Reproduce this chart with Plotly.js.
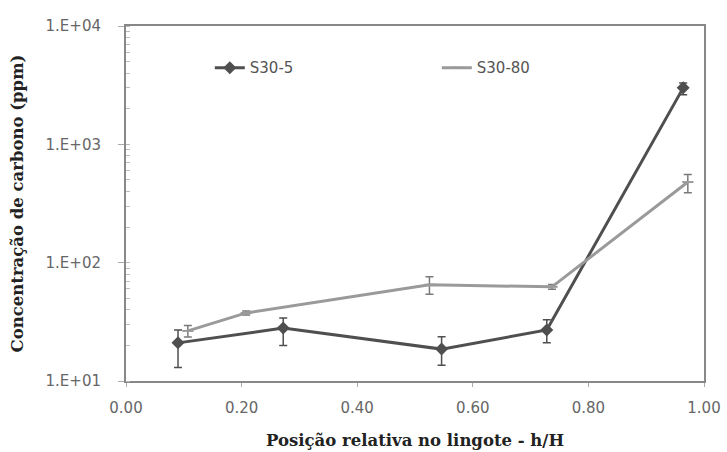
<!DOCTYPE html>
<html><head><meta charset="utf-8">
<script src="https://cdn.plot.ly/plotly-3.0.1.min.js"></script>
<style>html,body{margin:0;padding:0;background:#fff}#c{width:727px;height:452px}</style>
</head><body><div id="c"></div>
<script>
const s5_x = [0.09, 0.272, 0.546, 0.728, 0.964];
const s5_y = [21, 28, 18.6, 27, 3000];
const s5_errPlus = [6, 6, 5, 6, 300];
const s5_errMinus = [8, 8, 5, 6, 380];
const s80_x = [0.107, 0.208, 0.525, 0.737, 0.972];
const s80_y = [26.5, 37.6, 65, 62.5, 480];
const s80_errPlus = [3, 1.5, 11, 3, 75];
const s80_errMinus = [3, 1.5, 11, 3, 90];
const yTickVals = [10, 100, 1000, 10000];
const yTickText = ['1.E+01', '1.E+02', '1.E+03', '1.E+04'];
const xTickVals = [0, 0.2, 0.4, 0.6, 0.8, 1.0];
const xTickText = ['0.00', '0.20', '0.40', '0.60', '0.80', '1.00'];

const dark = '#4f4f4f', light = '#9a9a9a';
const traces = [
  {x: s5_x, y: s5_y, name: 'S30-5', mode: 'lines+markers',
   line: {color: dark, width: 3}, marker: {symbol: 'diamond', size: 10, color: dark},
   error_y: {type: 'data', symmetric: false, array: s5_errPlus, arrayminus: s5_errMinus, color: dark, thickness: 1.5, width: 4}},
  {x: s80_x, y: s80_y, name: 'S30-80', mode: 'lines+markers',
   line: {color: light, width: 3}, marker: {symbol: 'line-ew-open', size: 8, color: light, line: {color: light, width: 2}},
   error_y: {type: 'data', symmetric: false, array: s80_errPlus, arrayminus: s80_errMinus, color: '#7a7a7a', thickness: 1.5, width: 4}}
];
const tickFont = {family: 'DejaVu Sans, sans-serif', size: 15, color: '#666'};
const titleFont = {family: 'DejaVu Serif, serif', size: 16.5, color: '#222', weight: 'bold'};
const layout = {
  width: 727, height: 452,
  margin: {l: 126, r: 23, t: 26, b: 71},
  paper_bgcolor: '#fff', plot_bgcolor: '#fff',
  showlegend: true,
  legend: {orientation: 'h', x: 0.145, y: 0.882, xanchor: 'left', yanchor: 'middle',
    entrywidth: 182, entrywidthmode: 'pixels', bgcolor: 'rgba(0,0,0,0)',
    font: {family: 'DejaVu Sans, sans-serif', size: 15, color: '#555'}},
  xaxis: {range: [0, 1], tickvals: xTickVals, ticktext: xTickText, showgrid: false, zeroline: false,
    showline: true, linecolor: '#888', linewidth: 2, mirror: true, ticks: 'outside', ticklen: 4, tickcolor: '#aaa',
    tickfont: tickFont, ticklabelstandoff: 8,
    title: {text: 'Posição relativa no lingote - h/H', font: titleFont, standoff: 18}},
  yaxis: {type: 'log', range: [1, 4], tickvals: yTickVals, ticktext: yTickText, showgrid: false,
    showline: true, linecolor: '#888', linewidth: 2, mirror: true, ticks: 'outside', ticklen: 6, tickcolor: '#aaa',
    minor: {ticks: 'inside', ticklen: 4, tickcolor: '#bbb', showgrid: false, dtick: 'D1'},
    tickfont: tickFont, ticklabelstandoff: 14,
    title: {text: 'Concentração de carbono (ppm)', font: titleFont, standoff: 18}}
};
Plotly.newPlot('c', traces, layout, {displayModeBar: false, staticPlot: true});
</script></body></html>
